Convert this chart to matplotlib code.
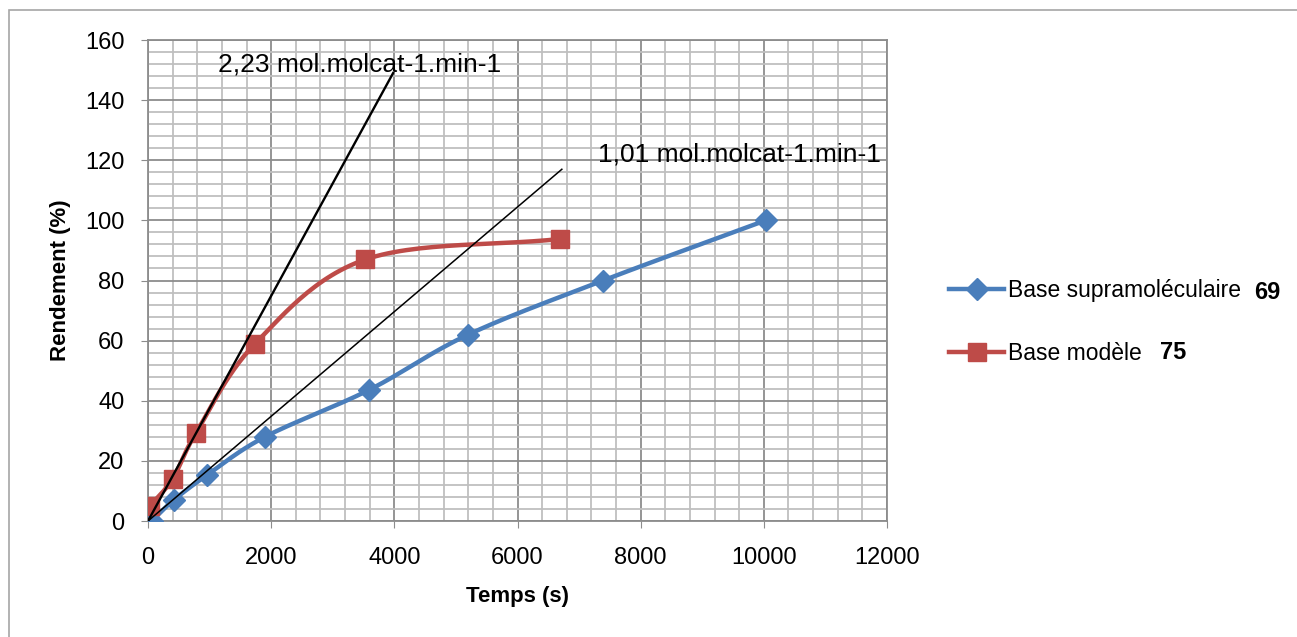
import matplotlib.pyplot as plt
import numpy as np
from matplotlib.patches import Rectangle

# Données
temps_supra = [60, 420, 960, 1900, 3590, 5200, 7390, 10030]
rend_supra = [0, 7, 15.3, 28, 43.6, 62, 80, 100]

temps_modele = [30, 400, 780, 1740, 3530, 6690]
rend_modele = [5, 14, 29.3, 59, 87, 93.8]

# Tangentes (début, fin)
tangente1_x = [0, 3980]
tangente1_y = [0, 149]
tangente2_x = [0, 6720]
tangente2_y = [0, 117]

label_t1 = "2,23 mol.molcat-1.min-1"
label_t2 = "1,01 mol.molcat-1.min-1"


def lisser(x, y, n=30):
    # Courbe lissée (Catmull-Rom) comme dans Excel
    x = np.asarray(x, float)
    y = np.asarray(y, float)
    px = np.concatenate([[2 * x[0] - x[1]], x, [2 * x[-1] - x[-2]]])
    py = np.concatenate([[2 * y[0] - y[1]], y, [2 * y[-1] - y[-2]]])
    xs, ys = [], []
    t = np.linspace(0, 1, n)
    for i in range(1, len(px) - 2):
        for p, out in ((px, xs), (py, ys)):
            p0, p1, p2, p3 = p[i - 1], p[i], p[i + 1], p[i + 2]
            out.extend(0.5 * ((2 * p1) + (-p0 + p2) * t
                              + (2 * p0 - 5 * p1 + 4 * p2 - p3) * t ** 2
                              + (-p0 + 3 * p1 - 3 * p2 + p3) * t ** 3))
    return xs, ys


plt.rcParams['font.family'] = ['Liberation Sans', 'DejaVu Sans']

fig = plt.figure(figsize=(12.97, 6.37), dpi=100)
ax = fig.add_axes([0.1141, 0.1821, 0.5698, 0.7551])

bleu = '#4a7ebb'
rouge = '#be4b48'

sx, sy = lisser(temps_supra, rend_supra)
ax.plot(sx, sy, color=bleu, lw=3.2, zorder=4)
ax.plot(temps_supra, rend_supra, ls='none', marker='D', ms=11, color=bleu, zorder=5)

mx, my = lisser(temps_modele, rend_modele)
ax.plot(mx, my, color=rouge, lw=3.2, zorder=4)
ax.plot(temps_modele, rend_modele, ls='none', marker='s', ms=13, color=rouge, zorder=5)

ax.plot(tangente1_x, tangente1_y, color='black', lw=1.7, zorder=6)
ax.plot(tangente2_x, tangente2_y, color='black', lw=1.1, zorder=6)

ax.text(1130, 152, label_t1, fontsize=19, va='center', ha='left')
ax.text(7300, 122, label_t2, fontsize=19, va='center', ha='left')

ax.set_xlim(0, 12000)
ax.set_ylim(0, 160)
ax.set_xticks(np.arange(0, 12001, 2000))
ax.set_yticks(np.arange(0, 161, 20))
ax.set_xticks(np.arange(0, 12001, 400), minor=True)
ax.set_yticks(np.arange(0, 161, 4), minor=True)
ax.grid(True, which='major', color='#8c8c8c', lw=1.3)
ax.grid(True, which='minor', color='#bfbfbf', lw=1.3)
ax.set_axisbelow(True)
ax.tick_params(which='major', labelsize=17, length=5, color='#8c8c8c')
ax.tick_params(axis='x', which='major', pad=14)
ax.tick_params(axis='y', which='major', pad=12)
ax.tick_params(which='minor', length=0)
for s in ax.spines.values():
    s.set_color('#8c8c8c')
    s.set_linewidth(1.3)

ax.set_xlabel('Temps (s)', fontsize=16, fontweight='bold', labelpad=12)
ax.set_ylabel('Rendement (%)', fontsize=16, fontweight='bold', labelpad=10)

# Légende
h1, = ax.plot([], [], color=bleu, lw=3.2, marker='D', ms=11)
h2, = ax.plot([], [], color=rouge, lw=3.2, marker='s', ms=13)
fig.legend([h1, h2], ['Base supramoléculaire', 'Base modèle'],
           loc='center left', bbox_to_anchor=(0.716, 0.4945), frameon=False,
           fontsize=16.5, handlelength=2.4, handletextpad=0.15, labelspacing=1.75)
fig.text(0.967, 0.5416, '69', fontsize=17, fontweight='bold', va='center')
fig.text(0.894, 0.4474, '75', fontsize=17, fontweight='bold', va='center')

# Cadre du graphique
fig.patches.append(Rectangle((0.007, -0.02), 1.1, 1.005, transform=fig.transFigure,
                             fill=False, edgecolor='#a6a6a6', lw=1.2))

plt.savefig('out.png', dpi=100)
